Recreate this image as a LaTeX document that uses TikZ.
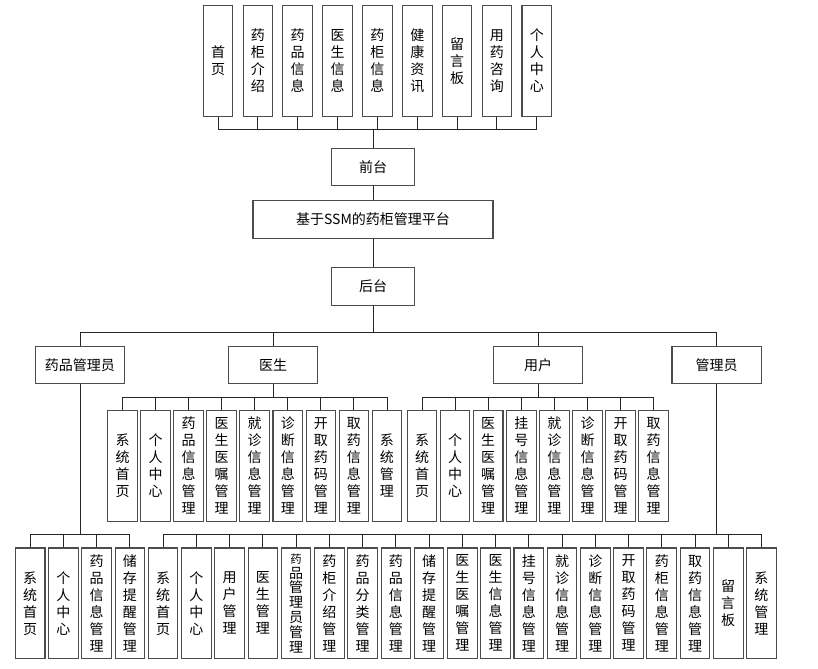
\documentclass[tikz,border=0pt]{standalone}
\usepackage{fontspec}
\setmainfont{Noto Sans CJK SC}
\begin{document}
\begin{tikzpicture}[x=0.75pt,y=-0.75pt,
  every node/.style={font=\fontsize{10.5}{12.75}\selectfont},
  box/.style={draw=black!70,line width=0.8pt,inner sep=0pt,align=center,fill=white},
  vbox/.style={box,minimum width=22.2pt,minimum height=83pt},
  hbox/.style={box,minimum width=62.5pt,minimum height=28pt},
  role/.style={box,minimum width=66.8pt,minimum height=28pt},
  link/.style={draw=black!85,line width=0.7pt}]
\useasboundingbox (0,0) rectangle (818,668);
% front end
\foreach \t [count=\i] in {{首\\页},{药\\柜\\介\\绍},{药\\品\\信\\息},{医\\生\\信\\息},{药\\柜\\信\\息},{健\\康\\资\\讯},{留\\言\\板},{用\\药\\咨\\询},{个\\人\\中\\心}}
  \node[vbox] (top\i) at ({218+39.85*(\i-1)},61) {\t};
\node[hbox] (qt) at (373,167) {前台};
\foreach \i in {1,...,9}
  \draw[link] (qt.north) -- ++(0,-18.5) -| (top\i.south);
\node[box,minimum width=180pt,minimum height=28pt] (sys) at (373,219.5) {基于SSM的药柜管理平台};
\node[hbox] (ht) at (373,286.5) {后台};
\draw[link] (qt) -- (sys);
\draw[link] (sys) -- (ht);
% roles
\node[role] (yp) at (80,364.8) {药品管理员};
\node[role] (ys) at (273,364.8) {医生};
\node[role] (yh) at (538,364.8) {用户};
\node[role] (gl) at (716.5,364.8) {管理员};
\foreach \r in {yp,ys,yh,gl}
  \draw[link] (ht.south) -- ++(0,27) -| (\r.north);
% doctor
\foreach \t [count=\i] in {{系\\统\\首\\页},{个\\人\\中\\心},{药\\品\\信\\息\\管\\理},{医\\生\\医\\嘱\\管\\理},{就\\诊\\信\\息\\管\\理},{诊\\断\\信\\息\\管\\理},{开\\取\\药\\码\\管\\理},{取\\药\\信\\息\\管\\理},{系\\统\\管\\理}}
  \node[vbox] (ys\i) at ({122.5+33.06*(\i-1)},465.7) {\t};
\foreach \i in {1,...,9}
  \draw[link] (ys.south) -- ++(0,13.3) -| (ys\i.north);
% user
\foreach \t [count=\i] in {{系\\统\\首\\页},{个\\人\\中\\心},{医\\生\\医\\嘱\\管\\理},{挂\\号\\信\\息\\管\\理},{就\\诊\\信\\息\\管\\理},{诊\\断\\信\\息\\管\\理},{开\\取\\药\\码\\管\\理},{取\\药\\信\\息\\管\\理}}
  \node[vbox] (yh\i) at ({422+33.1*(\i-1)},465.7) {\t};
\foreach \i in {1,...,8}
  \draw[link] (yh.south) -- ++(0,13.3) -| (yh\i.north);
% pharmacist
\foreach \t [count=\i] in {{系\\统\\首\\页},{个\\人\\中\\心},{药\\品\\信\\息\\管\\理},{储\\存\\提\\醒\\管\\理}}
  \node[vbox] (yp\i) at ({30.2+33.24*(\i-1)},603.3) {\t};
\foreach \i in {1,...,4}
  \draw[link] (yp.south) -- ++(0,150.8) -| (yp\i.north);
% admin
\foreach \t [count=\i] in {{系\\统\\首\\页},{个\\人\\中\\心},{用\\户\\管\\理},{医\\生\\管\\理},{\fontsize{8.5}{10.6}\selectfont 药\\[-1.6pt]品\\[-1.6pt]管\\[-1.6pt]理\\[-1.6pt]员\\[-1.6pt]管\\[-1.6pt]理},{药\\柜\\介\\绍\\管\\理},{药\\品\\分\\类\\管\\理},{药\\品\\信\\息\\管\\理},{储\\存\\提\\醒\\管\\理},{医\\生\\医\\嘱\\管\\理},{医\\生\\信\\息\\管\\理},{挂\\号\\信\\息\\管\\理},{就\\诊\\信\\息\\管\\理},{诊\\断\\信\\息\\管\\理},{开\\取\\药\\码\\管\\理},{药\\柜\\信\\息\\管\\理},{取\\药\\信\\息\\管\\理},{留\\言\\板},{系\\统\\管\\理}}
  \node[vbox] (gl\i) at ({30.2+33.24*(\i+3)},603.3) {\t};
\foreach \i in {1,...,19}
  \draw[link] (gl.south) -- ++(0,150.8) -| (gl\i.north);
\end{tikzpicture}
\end{document}
